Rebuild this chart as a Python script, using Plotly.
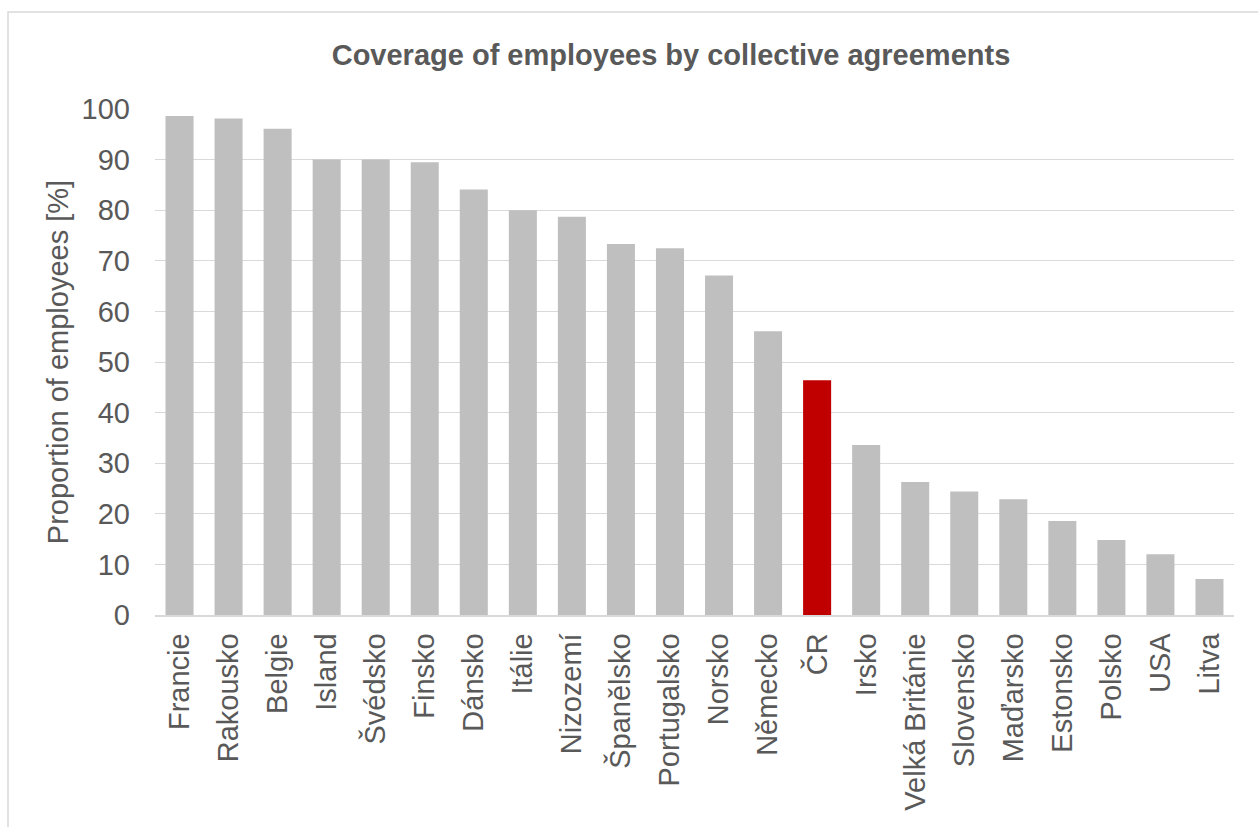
import plotly.graph_objects as go

countries = ["Francie", "Rakousko", "Belgie", "Island", "Švédsko", "Finsko",
             "Dánsko", "Itálie", "Nizozemí", "Španělsko", "Portugalsko",
             "Norsko", "Německo", "ČR", "Irsko", "Velká Británie", "Slovensko",
             "Maďarsko", "Estonsko", "Polsko", "USA", "Litva"]
coverage = [98.6, 98.1, 96.1, 90.0, 90.0, 89.5, 84.1, 80.0, 78.7, 73.3, 72.5,
            67.1, 56.1, 46.4, 33.6, 26.3, 24.4, 22.9, 18.6, 14.8, 12.0, 7.1]
highlight = "ČR"

GREY = "#BFBFBF"
RED = "#C00000"
TEXT = "#595959"
LINE = "#D9D9D9"
FONT = "Liberation Sans, Arial, sans-serif"

colors = [RED if c == highlight else GREY for c in countries]

fig = go.Figure(go.Bar(
    x=countries, y=coverage,
    marker=dict(color=colors, line=dict(width=0)),
))

fig.update_layout(
    width=1258, height=827,
    margin=dict(l=155, r=24, t=109, b=212),
    paper_bgcolor="white", plot_bgcolor="white",
    bargap=0.4286,
    showlegend=False,
    font=dict(family=FONT, color=TEXT, size=29),
    title=dict(
        text="<b>Coverage of employees by collective agreements</b>",
        x=671 / 1258, xref="container", xanchor="center",
        y=1 - 55 / 827, yref="container", yanchor="middle",
        font=dict(family=FONT, size=29, color=TEXT),
    ),
    xaxis=dict(
        tickangle=-90, tickfont=dict(size=29, color=TEXT),
        showline=True, linecolor=LINE, linewidth=1.5,
        showgrid=False, ticks="", ticklabelstandoff=5,
    ),
    yaxis=dict(
        range=[0, 100], dtick=10, tick0=0,
        showgrid=True, gridcolor=LINE, gridwidth=1,
        zeroline=False, showline=False, ticks="",
        tickfont=dict(size=29, color=TEXT), ticklabelstandoff=24,
        title=dict(text="Proportion of employees [%]",
                   font=dict(size=29, color=TEXT), standoff=4),
    ),
    shapes=[dict(
        type="rect", xref="paper", yref="paper",
        x0=(8 - 155) / 1079, x1=1.5,
        y0=-1.0, y1=(615 - 12) / 506,
        line=dict(color=LINE, width=1.5), layer="below",
    )],
)

fig.write_html("out.html")
